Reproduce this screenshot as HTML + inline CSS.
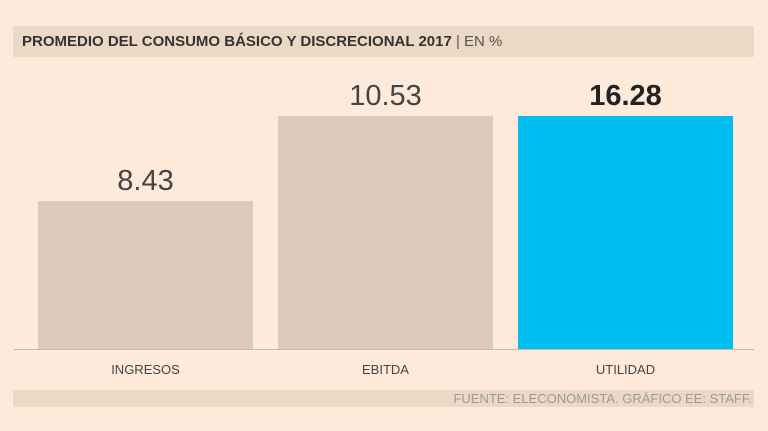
<!DOCTYPE html>
<html><head><meta charset="utf-8"><style>
body{margin:0;width:768px;height:431px;background:#fdeadb;font-family:"Liberation Sans",sans-serif;overflow:hidden;position:relative}
.band{position:absolute;left:13px;width:741px;background:#ebd9c6}
</style></head><body>
<div class="band" style="top:26px;height:31px"></div>
<div style="position:absolute;left:22px;top:33px;font-size:15px;font-weight:bold;color:#333;white-space:nowrap">PROMEDIO DEL CONSUMO BÁSICO Y DISCRECIONAL 2017 <span style="font-weight:normal;color:#555">| EN %</span></div>
<svg id="c" width="768" height="431" style="position:absolute;left:0;top:0"></svg>
<div class="band" style="top:390px;height:17px"></div>
<div style="position:absolute;right:16px;top:391px;font-size:13px;color:#9a9a9a;white-space:nowrap">FUENTE: ELECONOMISTA. GRÁFICO EE: STAFF.</div>
<script>
const categories=["INGRESOS","EBITDA","UTILIDAD"];
const values=[8.43,10.53,16.28];
const labels=["8.43","10.53","16.28"];
const svg=document.getElementById('c');
const NS="http://www.w3.org/2000/svg";
const base=349,maxH=233;
function y(v){const h=Math.max(0,Math.min(maxH,40.5*(v-4.78)));return base-h;}
function x(i){return 38+i*240;}
const bw=215;
values.forEach((v,i)=>{
 const r=document.createElementNS(NS,'rect');
 
 
 r.setAttribute('x',x(i));r.setAttribute('y',y(v));r.setAttribute('width',bw);r.setAttribute('height',base-y(v));
 r.setAttribute('fill',i==2?'#00bff0':'#dccbba');svg.appendChild(r);
 const t=document.createElementNS(NS,'text');
 
 
 t.setAttribute('x',x(i)+bw/2);t.setAttribute('y',y(v)-11);t.setAttribute('text-anchor','middle');
 t.setAttribute('font-size','29');t.setAttribute('fill',i==2?'#222':'#444');
 if(i==2)t.setAttribute('font-weight','bold');
 t.textContent=labels[i];svg.appendChild(t);
 const c=document.createElementNS(NS,'text');
 
 
 c.setAttribute('x',x(i)+bw/2);c.setAttribute('y',374);c.setAttribute('text-anchor','middle');
 c.setAttribute('font-size','13');c.setAttribute('fill','#444');
 c.textContent=categories[i];svg.appendChild(c);
});
const l=document.createElementNS(NS,'line');


l.setAttribute('x1',14);l.setAttribute('x2',754);l.setAttribute('y1',base+0.5);l.setAttribute('y2',base+0.5);
l.setAttribute('stroke','#c9b9a8');svg.appendChild(l);
</script>
</body></html>
